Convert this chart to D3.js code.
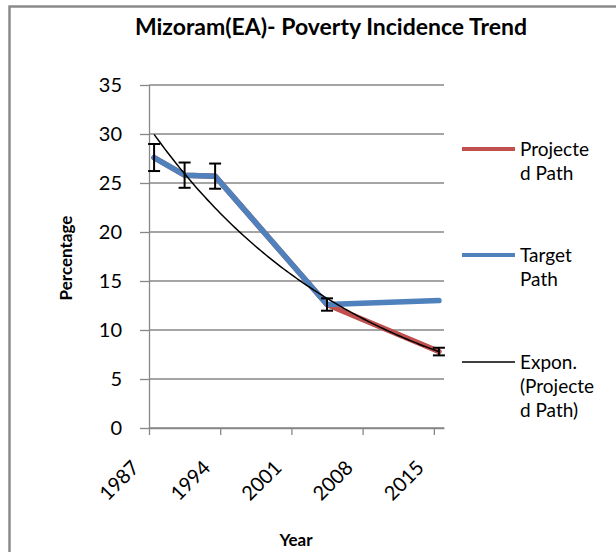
<!DOCTYPE html>
<html>
<head>
<meta charset="utf-8">
<script src="https://cdn.jsdelivr.net/npm/d3@7"></script>
<style>
  body { margin: 0; background: #fff; }
  text { font-family: Lato, "Open Sans", sans-serif; fill: #000; }
</style>
</head>
<body>
<div id="chart"></div>
<script>
// Data
const years = [1987.5, 1990.5, 1993.5, 2004.5, 2015.5];
const projected = [27.6, 25.8, 25.7, 12.6, 7.8];
const target = [27.6, 25.8, 25.7, 12.6, 13.0];
const xTicks = [1987, 1994, 2001, 2008, 2015];
const yTicks = [0, 5, 10, 15, 20, 25, 30, 35];
const errorPct = 0.05; // percentage error bars on Projected Path

// Dimensions
const W = 616, H = 552;
const plot = {left: 149, right: 444, top: 85, bottom: 428};

const svg = d3.select("#chart")
  .append("svg")
    .attr("width", W)
    .attr("height", H);

// chart area border (only left and top visible)
svg.append("path")
  .attr("d", `M9.5,${H} L9.5,6.5 L${W},6.5`)
  .attr("fill", "none")
  .attr("stroke", "#8a8a8a")
  .attr("stroke-width", 2.5);

// Title
svg.append("text")
  .attr("x", 331)
  .attr("y", 35)
  .attr("text-anchor", "middle")
  .style("font-size", "23px")
  .style("font-weight", "bold")
  .text("Mizoram(EA)- Poverty Incidence Trend");

// Scales
const x = d3.scaleLinear()
  .domain([1987, 2016])
  .range([plot.left, plot.right]);
const y = d3.scaleLinear()
  .domain([0, 35])
  .range([plot.bottom, plot.top]);

// Gridlines
svg.append("g")
  .selectAll("line")
  .data(yTicks)
  .join("line")
    .attr("x1", plot.left)
    .attr("x2", plot.right)
    .attr("y1", d => y(d))
    .attr("y2", d => y(d))
    .attr("stroke", "#878787")
    .attr("stroke-width", 1.3);

// Y axis
const yAxis = svg.append("g")
  .attr("transform", `translate(${plot.left},0)`)
  .call(d3.axisLeft(y).tickValues(yTicks).tickSize(9).tickPadding(18).tickSizeOuter(0));
yAxis.select(".domain").attr("stroke", "#878787").attr("stroke-width", 1.3);
yAxis.selectAll(".tick line").attr("stroke", "#878787").attr("stroke-width", 1.3);
yAxis.selectAll(".tick text")
  .style("font-family", "Lato, sans-serif")
  .style("font-size", "20px")
  .attr("fill", "#000");

// X axis
const xAxis = svg.append("g")
  .attr("transform", `translate(0,${plot.bottom})`)
  .call(d3.axisBottom(x).tickValues(xTicks).tickFormat(d3.format("d")).tickSize(7).tickSizeOuter(0));
xAxis.select(".domain").attr("stroke", "#878787").attr("stroke-width", 1.3);
xAxis.selectAll(".tick line").attr("stroke", "#878787").attr("stroke-width", 1.3);
xAxis.selectAll(".tick text")
  .style("font-family", "Lato, sans-serif")
  .style("font-size", "20px")
  .attr("fill", "#000")
  .attr("text-anchor", "end")
  .attr("x", 0)
  .attr("y", 0)
  .attr("dy", 0)
  .attr("transform", "translate(-9,41) rotate(-45)");

// Axis titles
svg.append("text")
  .attr("transform", "translate(72,258) rotate(-90)")
  .attr("text-anchor", "middle")
  .style("font-size", "17px")
  .style("font-weight", "bold")
  .text("Percentage");

svg.append("text")
  .attr("x", 296)
  .attr("y", 546)
  .attr("text-anchor", "middle")
  .style("font-size", "17px")
  .style("font-weight", "bold")
  .text("Year");

// Lines
const line = d3.line()
  .x(d => x(d[0]))
  .y(d => y(d[1]));

svg.append("path")
  .datum(d3.zip(years, projected))
  .attr("fill", "none")
  .attr("stroke", "#C0504D")
  .attr("stroke-width", 5.5)
  .attr("stroke-linejoin", "round")
  .attr("stroke-linecap", "round")
  .attr("d", line);

svg.append("path")
  .datum(d3.zip(years, target))
  .attr("fill", "none")
  .attr("stroke", "#4F81BD")
  .attr("stroke-width", 5.5)
  .attr("stroke-linejoin", "round")
  .attr("stroke-linecap", "round")
  .attr("d", line);

// Exponential trendline fitted to the projected path (least squares on ln y)
const lnY = projected.map(v => Math.log(v));
const mx = d3.mean(years), my = d3.mean(lnY);
const b = d3.sum(years, (t, i) => (t - mx) * (lnY[i] - my)) / d3.sum(years, t => (t - mx) ** 2);
const a = my - b * mx;
const trendX = d3.range(years[0], years[years.length - 1] + 0.01, 0.25);
svg.append("path")
  .datum(trendX.map(t => [t, Math.exp(a + b * t)]))
  .attr("fill", "none")
  .attr("stroke", "#000")
  .attr("stroke-width", 1.5)
  .attr("d", line);

// Error bars on the projected path
const eb = svg.append("g")
  .selectAll("g")
  .data(d3.zip(years, projected))
  .join("g")
    .attr("stroke", "#000")
    .attr("stroke-width", 2);
eb.append("line")
  .attr("x1", d => x(d[0])).attr("x2", d => x(d[0]))
  .attr("y1", d => y(d[1] * (1 + errorPct))).attr("y2", d => y(d[1] * (1 - errorPct)));
eb.append("line")
  .attr("x1", d => x(d[0]) - 6).attr("x2", d => x(d[0]) + 6)
  .attr("y1", d => y(d[1] * (1 + errorPct))).attr("y2", d => y(d[1] * (1 + errorPct)));
eb.append("line")
  .attr("x1", d => x(d[0]) - 6).attr("x2", d => x(d[0]) + 6)
  .attr("y1", d => y(d[1] * (1 - errorPct))).attr("y2", d => y(d[1] * (1 - errorPct)));

// Legend
const legendItems = [
  {lines: ["Projecte", "d Path"], color: "#C0504D", width: 4, y: 149},
  {lines: ["Target", "Path"], color: "#4F81BD", width: 4, y: 255},
  {lines: ["Expon.", "(Projecte", "d Path)"], color: "#000", width: 1.5, y: 362}
];
const legend = svg.append("g")
  .selectAll("g")
  .data(legendItems)
  .join("g")
    .attr("transform", d => `translate(462,${d.y})`);
legend.append("line")
  .attr("x1", 0).attr("x2", 53)
  .attr("stroke", d => d.color)
  .attr("stroke-width", d => d.width);
legend.append("text")
  .attr("x", 58)
  .style("font-size", "19px")
  .selectAll("tspan")
  .data(d => d.lines)
  .join("tspan")
    .attr("x", 58)
    .attr("y", (d, i) => i * 24)
    .attr("dy", "0.35em")
    .text(d => d);
</script>
</body>
</html>
